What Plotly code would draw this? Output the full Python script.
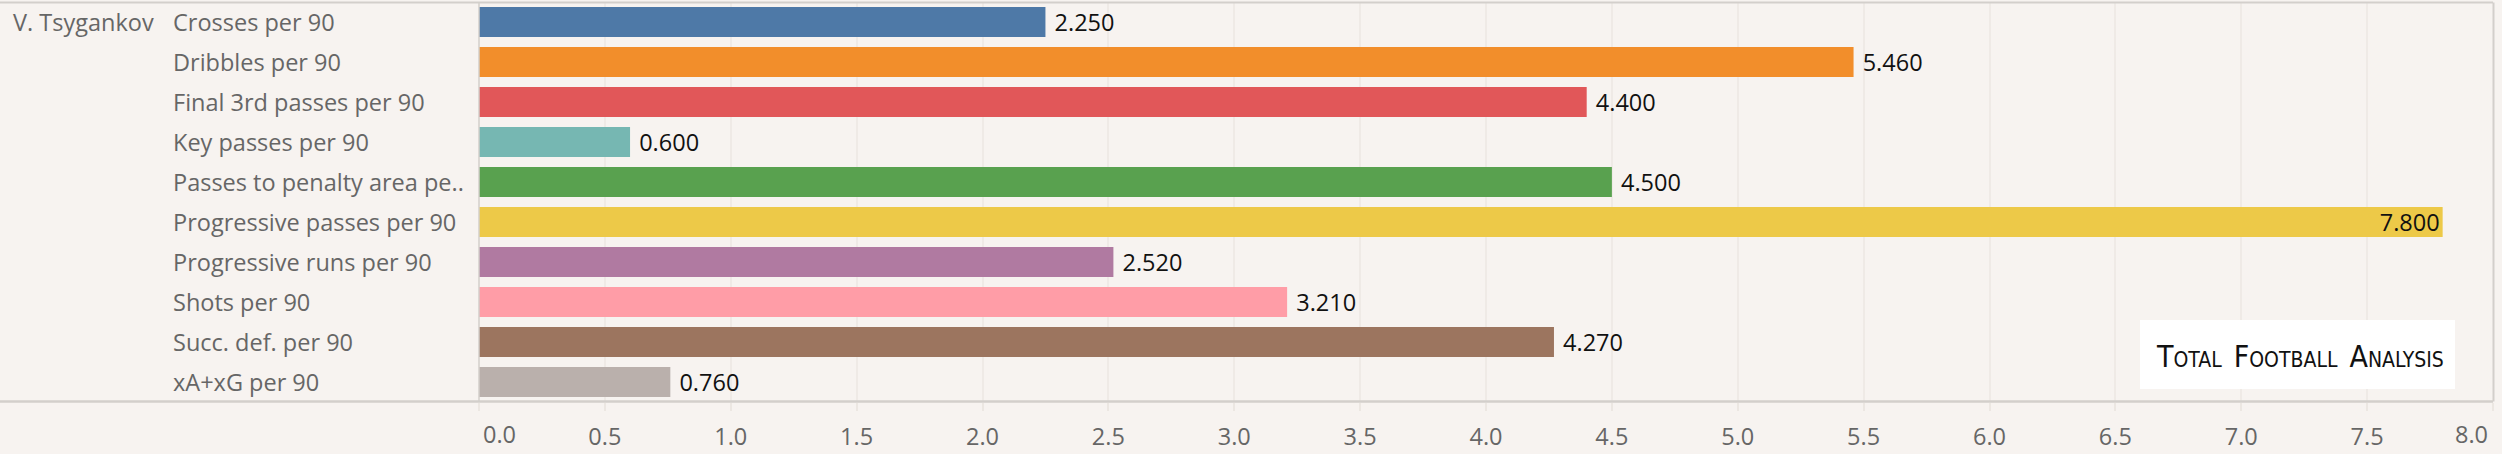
import plotly.graph_objects as go

player = "V. Tsygankov"
categories = [
    "Crosses per 90",
    "Dribbles per 90",
    "Final 3rd passes per 90",
    "Key passes per 90",
    "Passes to penalty area pe..",
    "Progressive passes per 90",
    "Progressive runs per 90",
    "Shots per 90",
    "Succ. def. per 90",
    "xA+xG per 90",
]
values = [2.25, 5.46, 4.40, 0.60, 4.50, 7.80, 2.52, 3.21, 4.27, 0.76]
colors = ["#4e79a7", "#f28e2b", "#e15759", "#76b7b2", "#59a14f",
          "#edc948", "#b07aa1", "#ff9da7", "#9c755f", "#bab0ac"]
tick_vals = [0, 0.5, 1, 1.5, 2, 2.5, 3, 3.5, 4, 4.5, 5, 5.5, 6, 6.5, 7, 7.5, 8]

BG = "#f7f3f0"
LINE = "#d3cfcb"
FONT = "Open Sans"
FS = 23.5

W, H = 2502, 454
L, R, T, B = 479, 9, 2, 52
PW = W - L - R
PH = H - T - B

def px_x(p):
    return (p - L) / PW

def px_y(p):
    return (H - B - p) / PH

xmax = tick_vals[-1]
positions = ["inside" if v > 0.93 * xmax else "outside" for v in values]
texts = [f"{v:.3f}" if pos == "inside" else f"\u00a0{v:.3f}" for v, pos in zip(values, positions)]

fig = go.Figure()
fig.add_trace(go.Bar(
    x=values,
    y=categories,
    orientation="h",
    marker=dict(color=colors, line=dict(width=0)),
    width=0.75,
    text=texts,
    textposition=positions,
    insidetextanchor="end",
    constraintext="none",
    cliponaxis=False,
    textfont=dict(family=FONT, size=FS, color="#111111"),
    insidetextfont=dict(family=FONT, size=FS, color="#111111"),
    outsidetextfont=dict(family=FONT, size=FS, color="#111111"),
    hoverinfo="skip",
))

annotations = []
for c in categories:
    annotations.append(dict(
        x=px_x(171), xref="paper", xanchor="left",
        y=c, yref="y", yanchor="middle",
        text=c, showarrow=False,
        font=dict(family=FONT, size=FS, color="#666666"),
    ))
annotations.append(dict(
    x=px_x(11), xref="paper", xanchor="left",
    y=categories[0], yref="y", yanchor="middle",
    text=player, showarrow=False,
    font=dict(family=FONT, size=FS, color="#666666"),
))
# first and last axis labels (shifted inward like the original)
annotations.append(dict(
    x=tick_vals[0], xref="x", xanchor="left", xshift=2,
    y=px_y(434), yref="paper", yanchor="middle",
    text=f"{tick_vals[0]:.1f}", showarrow=False,
    font=dict(family=FONT, size=FS, color="#666666"),
))
annotations.append(dict(
    x=tick_vals[-1], xref="x", xanchor="right", xshift=-3,
    y=px_y(434), yref="paper", yanchor="middle",
    text=f"{tick_vals[-1]:.1f}", showarrow=False,
    font=dict(family=FONT, size=FS, color="#666666"),
))
# logo text
annotations.append(dict(
    x=px_x(2300), xref="paper", xanchor="center",
    y=px_y(356), yref="paper", yanchor="middle",
    text=("<span style='font-size:30px'>T</span>OTAL\u00a0\u00a0"
          "<span style='font-size:30px'>F</span>OOTBALL\u00a0\u00a0"
          "<span style='font-size:30px'>A</span>NALYSIS"),
    showarrow=False,
    font=dict(family="DejaVu Sans Condensed, Liberation Sans Narrow, Liberation Sans", size=21, color="#111111"),
))

shapes = [
    dict(type="line", xref="paper", yref="paper", x0=px_x(0), x1=1, y0=px_y(2.5), y1=px_y(2.5),
         line=dict(color=LINE, width=2), layer="above"),
    dict(type="line", xref="paper", yref="paper", x0=px_x(0), x1=1, y0=px_y(401.5), y1=px_y(401.5),
         line=dict(color=LINE, width=2.5), layer="above"),
    dict(type="line", xref="paper", yref="paper", x0=px_x(479), x1=px_x(479), y0=px_y(2.5), y1=px_y(401.5),
         line=dict(color=LINE, width=1.5), layer="above"),
    dict(type="line", xref="paper", yref="paper", x0=px_x(2493.5), x1=px_x(2493.5), y0=px_y(2.5), y1=px_y(401.5),
         line=dict(color=LINE, width=2), layer="above"),
    dict(type="rect", xref="paper", yref="paper", x0=px_x(2140), x1=px_x(2455), y0=px_y(389), y1=px_y(320),
         fillcolor="#ffffff", line=dict(width=0), layer="above"),
]

fig.update_layout(
    width=W, height=H,
    margin=dict(l=L, r=R, t=T, b=B, pad=0),
    paper_bgcolor=BG, plot_bgcolor=BG,
    showlegend=False,
    bargap=0.25,
    annotations=annotations,
    shapes=shapes,
    xaxis=dict(
        range=[tick_vals[0], tick_vals[-1]],
        tickvals=tick_vals,
        ticktext=["" if v in (tick_vals[0], tick_vals[-1]) else f"{v:.1f}" for v in tick_vals],
        showgrid=True, gridcolor="#efeae6", gridwidth=2,
        zeroline=False, showline=False,
        ticks="outside", ticklen=8, tickwidth=1.5, tickcolor="#ece7e2",
        tickfont=dict(family=FONT, size=FS, color="#666666"),
        ticklabelstandoff=6,
        fixedrange=True,
    ),
    yaxis=dict(
        autorange="reversed",
        showticklabels=False,
        showgrid=False, zeroline=False, showline=False,
        ticks="",
        fixedrange=True,
    ),
)

fig.write_html(
    "out.html",
    config={"displayModeBar": False},
    post_script="document.body.style.margin='0';document.body.style.overflow='hidden';",
)
